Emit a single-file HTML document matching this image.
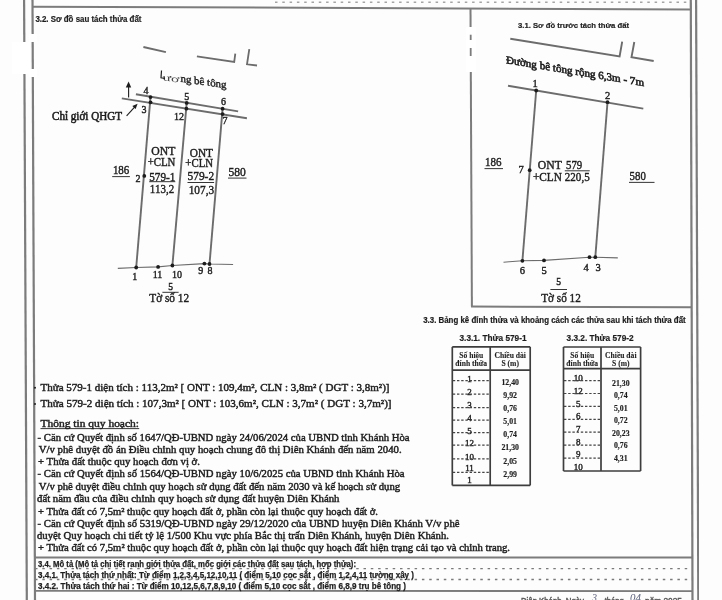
<!DOCTYPE html>
<html><head><meta charset="utf-8"><style>
html,body{margin:0;padding:0;background:#fdfdfd;}
body{width:722px;height:600px;overflow:hidden;}
svg{display:block;}
</style></head><body>
<svg width="722" height="600" viewBox="0 0 722 600">
<rect width="722" height="600" fill="#fdfdfd"/>
<g filter="url(#b)">
<line x1="24.1" y1="0" x2="26.8" y2="600" stroke="#7c7c7c" stroke-width="2.2"/>
<line x1="32.5" y1="0" x2="35.0" y2="600" stroke="#7c7c7c" stroke-width="2.2"/>
<line x1="690.8" y1="0" x2="692.5" y2="600" stroke="#7c7c7c" stroke-width="2.2"/>
<line x1="696.1" y1="0" x2="698.3" y2="600" stroke="#7c7c7c" stroke-width="2.2"/>
<circle cx="35" cy="387.7" r="1" fill="#1e1e1e"/>
<circle cx="35" cy="404.1" r="1" fill="#1e1e1e"/>
<line x1="32" y1="6.65" x2="691" y2="9.4" stroke="#7c7c7c" stroke-width="2.0"/>
<line x1="275" y1="2.3" x2="691" y2="2.3" stroke="#a5a5a5" stroke-width="1.4" stroke-dasharray="2.5 4.8"/>
<line x1="470.5" y1="8" x2="471.9" y2="306.6" stroke="#7c7c7c" stroke-width="2.0"/>
<line x1="471.0" y1="306.6" x2="691.8" y2="307.3" stroke="#7c7c7c" stroke-width="2.0"/>
<line x1="34.6" y1="557.5" x2="692" y2="557.5" stroke="#7c7c7c" stroke-width="1.8"/>
<line x1="34.9" y1="590.8" x2="692.5" y2="591.1" stroke="#7c7c7c" stroke-width="1.8"/>
<line x1="35" y1="568.7" x2="692" y2="568.7" stroke="#7a7a7a" stroke-width="1.3" stroke-dasharray="2.5 4.8"/>
<line x1="35" y1="579.5" x2="692" y2="579.5" stroke="#7a7a7a" stroke-width="1.3" stroke-dasharray="2.5 4.8"/>
<rect x="12" y="42" width="18" height="32" fill="#ffffff"/>
<rect x="29" y="34" width="8" height="8" fill="#ffffff"/>
<rect x="29" y="69" width="8" height="8" fill="#ffffff"/>
<rect x="466" y="27" width="10" height="45" fill="#ffffff"/>
<line x1="470.7" y1="34.7" x2="470.7" y2="40" stroke="#7c7c7c" stroke-width="1.8"/>
<line x1="470.7" y1="48" x2="470.7" y2="56" stroke="#7c7c7c" stroke-width="1.8"/>
<text x="35.4" y="22.3" font-family="Liberation Sans" font-size="8.6" font-weight="700" fill="#1e1e1e" stroke="#1e1e1e" stroke-width="0.2" text-anchor="start" textLength="106" lengthAdjust="spacingAndGlyphs">3.2. Sơ đồ sau tách thửa đất</text>
<text x="518" y="27.5" font-family="Liberation Sans" font-size="8.0" font-weight="700" fill="#1e1e1e" stroke="#1e1e1e" stroke-width="0.2" text-anchor="start" textLength="111" lengthAdjust="spacingAndGlyphs">3.1. Sơ đồ trước tách thửa đất</text>
<text x="423.2" y="323.4" font-family="Liberation Sans" font-size="8.3" font-weight="700" fill="#1e1e1e" stroke="#1e1e1e" stroke-width="0.2" text-anchor="start" textLength="262.5" lengthAdjust="spacingAndGlyphs">3.3. Bảng kê đỉnh thửa và khoảng cách các thửa sau khi tách thửa đất</text>
<text x="459.5" y="340.5" font-family="Liberation Sans" font-size="8.3" font-weight="700" fill="#1e1e1e" stroke="#1e1e1e" stroke-width="0.2" text-anchor="start" textLength="67" lengthAdjust="spacingAndGlyphs">3.3.1. Thửa 579-1</text>
<text x="566.6" y="340.8" font-family="Liberation Sans" font-size="8.3" font-weight="700" fill="#1e1e1e" stroke="#1e1e1e" stroke-width="0.2" text-anchor="start" textLength="67" lengthAdjust="spacingAndGlyphs">3.3.2. Thửa 579-2</text>
<line x1="143.4" y1="47" x2="165.9" y2="52.2" stroke="#6c6c6c" stroke-width="1.8"/>
<polyline points="196.9,56.3 234.2,62.0 235.3,53.6" fill="none" stroke="#6c6c6c" stroke-width="1.8"/>
<polyline points="249.3,49.2 247.0,64.3 257,65.5" fill="none" stroke="#6c6c6c" stroke-width="1.8"/>
<text x="162.5" y="80.2" font-family="Liberation Serif" font-size="9.5" font-weight="400" fill="#4a4a4a" stroke="#4a4a4a" stroke-width="0" text-anchor="start" textLength="17" lengthAdjust="spacingAndGlyphs" transform="translate(162.5 80.2) skewY(8) translate(-162.5 -80.2)">ươ</text>
<text x="180.5" y="81.8" font-family="Liberation Serif" font-size="10.5" font-weight="400" fill="#1e1e1e" stroke="#1e1e1e" stroke-width="0.4" text-anchor="start" textLength="46" lengthAdjust="spacingAndGlyphs" transform="translate(180.5 81.8) skewY(8) translate(-180.5 -81.8)">ng bê tông</text>
<polyline points="161.5,70.5 161,77.8 165,78.3" fill="none" stroke="#1e1e1e" stroke-width="1.2"/>
<line x1="135.9" y1="94.2" x2="238.1" y2="111.4" stroke="#6c6c6c" stroke-width="1.9"/>
<line x1="121.8" y1="98.4" x2="246.9" y2="118.2" stroke="#6c6c6c" stroke-width="1.9"/>
<line x1="150.5" y1="97.1" x2="136.2" y2="267.5" stroke="#6c6c6c" stroke-width="1.9"/>
<line x1="186.7" y1="102.9" x2="172.4" y2="265.5" stroke="#6c6c6c" stroke-width="1.9"/>
<line x1="222.6" y1="108.7" x2="209.5" y2="264.0" stroke="#6c6c6c" stroke-width="1.9"/>
<polyline points="117.8,268.4 136.2,267.5 158.1,266.9 172.4,265.5 204.4,263.6 209.5,264.0 233.1,264.5" fill="none" stroke="#6c6c6c" stroke-width="1.1"/>
<circle cx="150.5" cy="97.1" r="1.9" fill="#1e1e1e"/>
<circle cx="150.5" cy="102.3" r="1.9" fill="#1e1e1e"/>
<circle cx="186.7" cy="102.9" r="1.9" fill="#1e1e1e"/>
<circle cx="186.4" cy="108.7" r="1.9" fill="#1e1e1e"/>
<circle cx="222.6" cy="108.7" r="1.9" fill="#1e1e1e"/>
<circle cx="222.6" cy="114.1" r="1.9" fill="#1e1e1e"/>
<circle cx="144.3" cy="175.9" r="1.9" fill="#1e1e1e"/>
<circle cx="136.2" cy="267.5" r="1.9" fill="#1e1e1e"/>
<circle cx="158.1" cy="266.9" r="1.9" fill="#1e1e1e"/>
<circle cx="172.4" cy="265.5" r="1.9" fill="#1e1e1e"/>
<circle cx="204.4" cy="263.6" r="1.9" fill="#1e1e1e"/>
<circle cx="209.5" cy="264.0" r="1.9" fill="#1e1e1e"/>
<text x="146" y="93.5" font-family="Liberation Serif" font-size="10" font-weight="400" fill="#1e1e1e" stroke="#1e1e1e" stroke-width="0.4" text-anchor="middle">4</text>
<text x="144.1" y="112.8" font-family="Liberation Serif" font-size="10" font-weight="400" fill="#1e1e1e" stroke="#1e1e1e" stroke-width="0.4" text-anchor="middle">3</text>
<text x="186.7" y="100.3" font-family="Liberation Serif" font-size="10" font-weight="400" fill="#1e1e1e" stroke="#1e1e1e" stroke-width="0.4" text-anchor="middle">5</text>
<text x="179" y="119.7" font-family="Liberation Serif" font-size="10" font-weight="400" fill="#1e1e1e" stroke="#1e1e1e" stroke-width="0.4" text-anchor="middle">12</text>
<text x="223.6" y="105.1" font-family="Liberation Serif" font-size="10" font-weight="400" fill="#1e1e1e" stroke="#1e1e1e" stroke-width="0.4" text-anchor="middle">6</text>
<text x="225.1" y="123.6" font-family="Liberation Serif" font-size="10" font-weight="400" fill="#1e1e1e" stroke="#1e1e1e" stroke-width="0.4" text-anchor="middle">7</text>
<text x="138.1" y="182.1" font-family="Liberation Serif" font-size="10" font-weight="400" fill="#1e1e1e" stroke="#1e1e1e" stroke-width="0.4" text-anchor="middle">2</text>
<text x="134.8" y="280" font-family="Liberation Serif" font-size="10" font-weight="400" fill="#1e1e1e" stroke="#1e1e1e" stroke-width="0.4" text-anchor="middle">1</text>
<text x="157.5" y="277.5" font-family="Liberation Serif" font-size="10" font-weight="400" fill="#1e1e1e" stroke="#1e1e1e" stroke-width="0.4" text-anchor="middle">11</text>
<text x="176.9" y="277.5" font-family="Liberation Serif" font-size="10" font-weight="400" fill="#1e1e1e" stroke="#1e1e1e" stroke-width="0.4" text-anchor="middle">10</text>
<text x="200.8" y="274" font-family="Liberation Serif" font-size="10" font-weight="400" fill="#1e1e1e" stroke="#1e1e1e" stroke-width="0.4" text-anchor="middle">9</text>
<text x="209.9" y="274.3" font-family="Liberation Serif" font-size="10" font-weight="400" fill="#1e1e1e" stroke="#1e1e1e" stroke-width="0.4" text-anchor="middle">8</text>
<line x1="128.6" y1="97.5" x2="128.6" y2="84" stroke="#1e1e1e" stroke-width="1.1"/>
<path d="M125.8,87.5 L128.6,81.5 L131.2,87.5 Z" fill="#1e1e1e"/>
<line x1="126.6" y1="115.9" x2="135.5" y2="106.2" stroke="#1e1e1e" stroke-width="1.1"/>
<path d="M132.3,106.0 L137.6,103.8 L135.6,109.0 Z" fill="#1e1e1e"/>
<text x="52" y="120.3" font-family="Liberation Serif" font-size="11.5" font-weight="400" fill="#1e1e1e" stroke="#1e1e1e" stroke-width="0.55" text-anchor="start" textLength="70" lengthAdjust="spacingAndGlyphs">Chỉ giới QHGT</text>
<text x="163.3" y="155.0" font-family="Liberation Serif" font-size="11.5" font-weight="400" fill="#1e1e1e" stroke="#1e1e1e" stroke-width="0.4" text-anchor="middle" textLength="24" lengthAdjust="spacingAndGlyphs">ONT</text>
<text x="161.5" y="165.5" font-family="Liberation Serif" font-size="11.5" font-weight="400" fill="#1e1e1e" stroke="#1e1e1e" stroke-width="0.4" text-anchor="middle" textLength="27.7" lengthAdjust="spacingAndGlyphs">+CLN</text>
<text x="162.3" y="180.6" font-family="Liberation Serif" font-size="11.5" font-weight="400" fill="#1e1e1e" stroke="#1e1e1e" stroke-width="0.4" text-anchor="middle" textLength="26" lengthAdjust="spacingAndGlyphs">579-1</text>
<line x1="149.2" y1="181.7" x2="175.3" y2="181.7" stroke="#1e1e1e" stroke-width="0.9"/>
<text x="162" y="193.2" font-family="Liberation Serif" font-size="11.5" font-weight="400" fill="#1e1e1e" stroke="#1e1e1e" stroke-width="0.4" text-anchor="middle" textLength="24.3" lengthAdjust="spacingAndGlyphs">113,2</text>
<text x="201.4" y="156.6" font-family="Liberation Serif" font-size="11.5" font-weight="400" fill="#1e1e1e" stroke="#1e1e1e" stroke-width="0.4" text-anchor="middle" textLength="23.3" lengthAdjust="spacingAndGlyphs">ONT</text>
<text x="199.2" y="167" font-family="Liberation Serif" font-size="11.5" font-weight="400" fill="#1e1e1e" stroke="#1e1e1e" stroke-width="0.4" text-anchor="middle" textLength="27.7" lengthAdjust="spacingAndGlyphs">+CLN</text>
<text x="200.8" y="179.9" font-family="Liberation Serif" font-size="11.5" font-weight="400" fill="#1e1e1e" stroke="#1e1e1e" stroke-width="0.4" text-anchor="middle" textLength="26.6" lengthAdjust="spacingAndGlyphs">579-2</text>
<line x1="187.5" y1="182.5" x2="214.1" y2="182.5" stroke="#1e1e1e" stroke-width="0.9"/>
<text x="201.4" y="193.6" font-family="Liberation Serif" font-size="11.5" font-weight="400" fill="#1e1e1e" stroke="#1e1e1e" stroke-width="0.4" text-anchor="middle" textLength="25.5" lengthAdjust="spacingAndGlyphs">107,3</text>
<text x="121.1" y="174.3" font-family="Liberation Serif" font-size="11.5" font-weight="400" fill="#1e1e1e" stroke="#1e1e1e" stroke-width="0.4" text-anchor="middle" textLength="16.4" lengthAdjust="spacingAndGlyphs">186</text>
<line x1="112.2" y1="176.6" x2="129.9" y2="176.6" stroke="#1e1e1e" stroke-width="0.9"/>
<text x="237.2" y="175.5" font-family="Liberation Serif" font-size="11.5" font-weight="400" fill="#1e1e1e" stroke="#1e1e1e" stroke-width="0.4" text-anchor="middle" textLength="17.3" lengthAdjust="spacingAndGlyphs">580</text>
<line x1="228" y1="178.1" x2="246.5" y2="178.1" stroke="#1e1e1e" stroke-width="0.9"/>
<text x="170.5" y="289.6" font-family="Liberation Serif" font-size="9.5" font-weight="400" fill="#1e1e1e" stroke="#1e1e1e" stroke-width="0.4" text-anchor="middle">5</text>
<line x1="162.4" y1="292.3" x2="178.6" y2="292.3" stroke="#1e1e1e" stroke-width="0.9"/>
<text x="169.2" y="301.6" font-family="Liberation Serif" font-size="12" font-weight="400" fill="#1e1e1e" stroke="#1e1e1e" stroke-width="0.4" text-anchor="middle" textLength="39.9" lengthAdjust="spacingAndGlyphs">Tờ số 12</text>
<polyline points="510.3,38.7 619.6,56.4 622.2,41.6" fill="none" stroke="#6c6c6c" stroke-width="1.9"/>
<polyline points="634.3,42 631.5,57.2 653.7,61" fill="none" stroke="#6c6c6c" stroke-width="1.9"/>
<text x="506" y="63.3" font-family="Liberation Serif" font-size="10.8" font-weight="400" fill="#1e1e1e" stroke="#1e1e1e" stroke-width="0.6" text-anchor="start" textLength="138" lengthAdjust="spacingAndGlyphs" transform="translate(506 63.3) skewY(9.4) translate(-506 -63.3)">Đường bê tông rộng 6,3m - 7m</text>
<line x1="508" y1="85.7" x2="643.3" y2="108.6" stroke="#6c6c6c" stroke-width="1.9"/>
<line x1="536.2" y1="90.5" x2="522.4" y2="260.8" stroke="#6c6c6c" stroke-width="1.9"/>
<line x1="607.5" y1="102.2" x2="595.3" y2="257.2" stroke="#6c6c6c" stroke-width="1.9"/>
<polyline points="503.5,262.2 522.4,260.8 544,260.4 589.5,257.2 595.3,257.2 617.8,257.9" fill="none" stroke="#6c6c6c" stroke-width="1.1"/>
<circle cx="536.2" cy="90.5" r="1.9" fill="#1e1e1e"/>
<circle cx="607.5" cy="102.2" r="1.9" fill="#1e1e1e"/>
<circle cx="529.7" cy="170.2" r="1.9" fill="#1e1e1e"/>
<circle cx="522.4" cy="260.8" r="1.9" fill="#1e1e1e"/>
<circle cx="544" cy="260.4" r="1.9" fill="#1e1e1e"/>
<circle cx="589.5" cy="257.2" r="1.9" fill="#1e1e1e"/>
<circle cx="595.3" cy="257.2" r="1.9" fill="#1e1e1e"/>
<text x="535" y="86.5" font-family="Liberation Serif" font-size="10.5" font-weight="400" fill="#1e1e1e" stroke="#1e1e1e" stroke-width="0.4" text-anchor="middle">1</text>
<text x="607.5" y="98.8" font-family="Liberation Serif" font-size="10.5" font-weight="400" fill="#1e1e1e" stroke="#1e1e1e" stroke-width="0.4" text-anchor="middle">2</text>
<text x="521.1" y="172.8" font-family="Liberation Serif" font-size="10.5" font-weight="400" fill="#1e1e1e" stroke="#1e1e1e" stroke-width="0.4" text-anchor="middle">7</text>
<text x="522.4" y="273.5" font-family="Liberation Serif" font-size="10.5" font-weight="400" fill="#1e1e1e" stroke="#1e1e1e" stroke-width="0.4" text-anchor="middle">6</text>
<text x="544" y="273.5" font-family="Liberation Serif" font-size="10.5" font-weight="400" fill="#1e1e1e" stroke="#1e1e1e" stroke-width="0.4" text-anchor="middle">5</text>
<text x="586" y="271" font-family="Liberation Serif" font-size="10.5" font-weight="400" fill="#1e1e1e" stroke="#1e1e1e" stroke-width="0.4" text-anchor="middle">4</text>
<text x="598" y="271" font-family="Liberation Serif" font-size="10.5" font-weight="400" fill="#1e1e1e" stroke="#1e1e1e" stroke-width="0.4" text-anchor="middle">3</text>
<text x="493.3" y="166.4" font-family="Liberation Serif" font-size="11.5" font-weight="400" fill="#1e1e1e" stroke="#1e1e1e" stroke-width="0.4" text-anchor="middle" textLength="16.5" lengthAdjust="spacingAndGlyphs">186</text>
<line x1="484.5" y1="168.6" x2="503" y2="168.6" stroke="#1e1e1e" stroke-width="0.9"/>
<text x="637.7" y="179.5" font-family="Liberation Serif" font-size="11.5" font-weight="400" fill="#1e1e1e" stroke="#1e1e1e" stroke-width="0.4" text-anchor="middle" textLength="16.2" lengthAdjust="spacingAndGlyphs">580</text>
<line x1="629" y1="182.4" x2="654.5" y2="182.4" stroke="#1e1e1e" stroke-width="0.9"/>
<text x="537.8" y="168.7" font-family="Liberation Serif" font-size="11.5" font-weight="400" fill="#1e1e1e" stroke="#1e1e1e" stroke-width="0.4" text-anchor="start" textLength="24" lengthAdjust="spacingAndGlyphs">ONT</text>
<text x="566" y="168.7" font-family="Liberation Serif" font-size="11.5" font-weight="400" fill="#1e1e1e" stroke="#1e1e1e" stroke-width="0.4" text-anchor="start" textLength="16.2" lengthAdjust="spacingAndGlyphs">579</text>
<line x1="564.8" y1="170.8" x2="589.7" y2="170.8" stroke="#1e1e1e" stroke-width="0.9"/>
<text x="532.9" y="180.9" font-family="Liberation Serif" font-size="11.5" font-weight="400" fill="#1e1e1e" stroke="#1e1e1e" stroke-width="0.4" text-anchor="start" textLength="28.9" lengthAdjust="spacingAndGlyphs">+CLN</text>
<text x="564.8" y="181.3" font-family="Liberation Serif" font-size="11.5" font-weight="400" fill="#1e1e1e" stroke="#1e1e1e" stroke-width="0.4" text-anchor="start" textLength="24.9" lengthAdjust="spacingAndGlyphs">220,5</text>
<text x="558.5" y="285.3" font-family="Liberation Serif" font-size="9.5" font-weight="400" fill="#1e1e1e" stroke="#1e1e1e" stroke-width="0.4" text-anchor="middle">5</text>
<line x1="550.4" y1="289.5" x2="567" y2="289.5" stroke="#1e1e1e" stroke-width="0.9"/>
<text x="561" y="301.8" font-family="Liberation Serif" font-size="12" font-weight="400" fill="#1e1e1e" stroke="#1e1e1e" stroke-width="0.4" text-anchor="middle" textLength="39.5" lengthAdjust="spacingAndGlyphs">Tờ số 12</text>
<line x1="452.3" y1="346.9" x2="530.2" y2="346.9" stroke="#3e3e3e" stroke-width="1.7"/>
<line x1="452.3" y1="485.4" x2="530.2" y2="485.4" stroke="#3e3e3e" stroke-width="1.7"/>
<line x1="452.3" y1="346.9" x2="452.3" y2="485.4" stroke="#3e3e3e" stroke-width="1.7"/>
<line x1="530.2" y1="346.9" x2="530.2" y2="485.4" stroke="#3e3e3e" stroke-width="1.7"/>
<line x1="490.2" y1="346.9" x2="490.2" y2="485.4" stroke="#3e3e3e" stroke-width="1.7"/>
<line x1="452.3" y1="370.1" x2="530.2" y2="370.1" stroke="#3e3e3e" stroke-width="1.7"/>
<text x="471.25" y="358.2" font-family="Liberation Serif" font-size="7.6" font-weight="700" fill="#1e1e1e" stroke="#1e1e1e" stroke-width="0.1" text-anchor="middle">Số hiệu</text>
<text x="471.25" y="365.9" font-family="Liberation Serif" font-size="7.6" font-weight="700" fill="#1e1e1e" stroke="#1e1e1e" stroke-width="0.1" text-anchor="middle">đỉnh thửa</text>
<text x="510.20000000000005" y="358.2" font-family="Liberation Serif" font-size="7.6" font-weight="700" fill="#1e1e1e" stroke="#1e1e1e" stroke-width="0.1" text-anchor="middle">Chiều dài</text>
<text x="510.20000000000005" y="365.9" font-family="Liberation Serif" font-size="7.6" font-weight="700" fill="#1e1e1e" stroke="#1e1e1e" stroke-width="0.1" text-anchor="middle">S (m)</text>
<text x="469.55" y="381.7" font-family="Liberation Serif" font-size="9" font-weight="400" fill="#1e1e1e" stroke="#1e1e1e" stroke-width="0.4" text-anchor="middle">1</text>
<text x="469.55" y="394.9" font-family="Liberation Serif" font-size="9" font-weight="400" fill="#1e1e1e" stroke="#1e1e1e" stroke-width="0.4" text-anchor="middle">2</text>
<text x="469.55" y="407.8" font-family="Liberation Serif" font-size="9" font-weight="400" fill="#1e1e1e" stroke="#1e1e1e" stroke-width="0.4" text-anchor="middle">3</text>
<text x="469.55" y="421.3" font-family="Liberation Serif" font-size="9" font-weight="400" fill="#1e1e1e" stroke="#1e1e1e" stroke-width="0.4" text-anchor="middle">4</text>
<text x="469.55" y="433.8" font-family="Liberation Serif" font-size="9" font-weight="400" fill="#1e1e1e" stroke="#1e1e1e" stroke-width="0.4" text-anchor="middle">5</text>
<text x="469.55" y="446.3" font-family="Liberation Serif" font-size="9" font-weight="400" fill="#1e1e1e" stroke="#1e1e1e" stroke-width="0.4" text-anchor="middle">12</text>
<text x="469.55" y="459.5" font-family="Liberation Serif" font-size="9" font-weight="400" fill="#1e1e1e" stroke="#1e1e1e" stroke-width="0.4" text-anchor="middle">10</text>
<text x="469.55" y="471.3" font-family="Liberation Serif" font-size="9" font-weight="400" fill="#1e1e1e" stroke="#1e1e1e" stroke-width="0.4" text-anchor="middle">11</text>
<text x="469.55" y="482.8" font-family="Liberation Serif" font-size="9" font-weight="400" fill="#1e1e1e" stroke="#1e1e1e" stroke-width="0.4" text-anchor="middle">1</text>
<text x="510.20000000000005" y="385.3" font-family="Liberation Serif" font-size="7.8" font-weight="700" fill="#1e1e1e" stroke="#1e1e1e" stroke-width="0.15" text-anchor="middle">12,40</text>
<text x="510.20000000000005" y="398.40000000000003" font-family="Liberation Serif" font-size="7.8" font-weight="700" fill="#1e1e1e" stroke="#1e1e1e" stroke-width="0.15" text-anchor="middle">9,92</text>
<text x="510.20000000000005" y="411.40000000000003" font-family="Liberation Serif" font-size="7.8" font-weight="700" fill="#1e1e1e" stroke="#1e1e1e" stroke-width="0.15" text-anchor="middle">0,76</text>
<text x="510.20000000000005" y="424.3" font-family="Liberation Serif" font-size="7.8" font-weight="700" fill="#1e1e1e" stroke="#1e1e1e" stroke-width="0.15" text-anchor="middle">5,01</text>
<text x="510.20000000000005" y="437.40000000000003" font-family="Liberation Serif" font-size="7.8" font-weight="700" fill="#1e1e1e" stroke="#1e1e1e" stroke-width="0.15" text-anchor="middle">0,74</text>
<text x="510.20000000000005" y="449.90000000000003" font-family="Liberation Serif" font-size="7.8" font-weight="700" fill="#1e1e1e" stroke="#1e1e1e" stroke-width="0.15" text-anchor="middle">21,30</text>
<text x="510.20000000000005" y="463.90000000000003" font-family="Liberation Serif" font-size="7.8" font-weight="700" fill="#1e1e1e" stroke="#1e1e1e" stroke-width="0.15" text-anchor="middle">2,05</text>
<text x="510.20000000000005" y="477.0" font-family="Liberation Serif" font-size="7.8" font-weight="700" fill="#1e1e1e" stroke="#1e1e1e" stroke-width="0.15" text-anchor="middle">2,99</text>
<line x1="452.8" y1="380.6" x2="489.7" y2="380.6" stroke="#444" stroke-width="1.2" stroke-dasharray="2.4 1.8"/>
<line x1="452.8" y1="394.2" x2="489.7" y2="394.2" stroke="#444" stroke-width="1.2" stroke-dasharray="2.4 1.8"/>
<line x1="452.8" y1="407.7" x2="489.7" y2="407.7" stroke="#444" stroke-width="1.2" stroke-dasharray="2.4 1.8"/>
<line x1="452.8" y1="420.2" x2="489.7" y2="420.2" stroke="#444" stroke-width="1.2" stroke-dasharray="2.4 1.8"/>
<line x1="452.8" y1="432.7" x2="489.7" y2="432.7" stroke="#444" stroke-width="1.2" stroke-dasharray="2.4 1.8"/>
<line x1="452.8" y1="445.2" x2="489.7" y2="445.2" stroke="#444" stroke-width="1.2" stroke-dasharray="2.4 1.8"/>
<line x1="452.8" y1="458.8" x2="489.7" y2="458.8" stroke="#444" stroke-width="1.2" stroke-dasharray="2.4 1.8"/>
<line x1="452.8" y1="472.3" x2="489.7" y2="472.3" stroke="#444" stroke-width="1.2" stroke-dasharray="2.4 1.8"/>
<line x1="563.5" y1="347" x2="640.6" y2="347" stroke="#3e3e3e" stroke-width="1.7"/>
<line x1="563.5" y1="471" x2="640.6" y2="471" stroke="#3e3e3e" stroke-width="1.7"/>
<line x1="563.5" y1="347" x2="563.5" y2="471" stroke="#3e3e3e" stroke-width="1.7"/>
<line x1="640.6" y1="347" x2="640.6" y2="471" stroke="#3e3e3e" stroke-width="1.7"/>
<line x1="601" y1="347" x2="601" y2="471" stroke="#3e3e3e" stroke-width="1.7"/>
<line x1="563.5" y1="368.6" x2="640.6" y2="368.6" stroke="#3e3e3e" stroke-width="1.7"/>
<text x="582.25" y="358.2" font-family="Liberation Serif" font-size="7.6" font-weight="700" fill="#1e1e1e" stroke="#1e1e1e" stroke-width="0.1" text-anchor="middle">Số hiệu</text>
<text x="582.25" y="365.9" font-family="Liberation Serif" font-size="7.6" font-weight="700" fill="#1e1e1e" stroke="#1e1e1e" stroke-width="0.1" text-anchor="middle">đỉnh thửa</text>
<text x="620.8" y="358.2" font-family="Liberation Serif" font-size="7.6" font-weight="700" fill="#1e1e1e" stroke="#1e1e1e" stroke-width="0.1" text-anchor="middle">Chiều dài</text>
<text x="620.8" y="365.9" font-family="Liberation Serif" font-size="7.6" font-weight="700" fill="#1e1e1e" stroke="#1e1e1e" stroke-width="0.1" text-anchor="middle">S (m)</text>
<text x="578.25" y="381.2" font-family="Liberation Serif" font-size="9" font-weight="400" fill="#1e1e1e" stroke="#1e1e1e" stroke-width="0.4" text-anchor="middle">10</text>
<text x="578.25" y="394.09999999999997" font-family="Liberation Serif" font-size="9" font-weight="400" fill="#1e1e1e" stroke="#1e1e1e" stroke-width="0.4" text-anchor="middle">12</text>
<text x="578.25" y="407.0" font-family="Liberation Serif" font-size="9" font-weight="400" fill="#1e1e1e" stroke="#1e1e1e" stroke-width="0.4" text-anchor="middle">5</text>
<text x="578.25" y="419.2" font-family="Liberation Serif" font-size="9" font-weight="400" fill="#1e1e1e" stroke="#1e1e1e" stroke-width="0.4" text-anchor="middle">6</text>
<text x="578.25" y="431.59999999999997" font-family="Liberation Serif" font-size="9" font-weight="400" fill="#1e1e1e" stroke="#1e1e1e" stroke-width="0.4" text-anchor="middle">7</text>
<text x="578.25" y="445.0" font-family="Liberation Serif" font-size="9" font-weight="400" fill="#1e1e1e" stroke="#1e1e1e" stroke-width="0.4" text-anchor="middle">8</text>
<text x="578.25" y="457.4" font-family="Liberation Serif" font-size="9" font-weight="400" fill="#1e1e1e" stroke="#1e1e1e" stroke-width="0.4" text-anchor="middle">9</text>
<text x="578.25" y="469.8" font-family="Liberation Serif" font-size="9" font-weight="400" fill="#1e1e1e" stroke="#1e1e1e" stroke-width="0.4" text-anchor="middle">10</text>
<text x="620.8" y="385.70000000000005" font-family="Liberation Serif" font-size="7.8" font-weight="700" fill="#1e1e1e" stroke="#1e1e1e" stroke-width="0.15" text-anchor="middle">21,30</text>
<text x="620.8" y="397.90000000000003" font-family="Liberation Serif" font-size="7.8" font-weight="700" fill="#1e1e1e" stroke="#1e1e1e" stroke-width="0.15" text-anchor="middle">0,74</text>
<text x="620.8" y="410.8" font-family="Liberation Serif" font-size="7.8" font-weight="700" fill="#1e1e1e" stroke="#1e1e1e" stroke-width="0.15" text-anchor="middle">5,01</text>
<text x="620.8" y="423.20000000000005" font-family="Liberation Serif" font-size="7.8" font-weight="700" fill="#1e1e1e" stroke="#1e1e1e" stroke-width="0.15" text-anchor="middle">0,72</text>
<text x="620.8" y="436.1" font-family="Liberation Serif" font-size="7.8" font-weight="700" fill="#1e1e1e" stroke="#1e1e1e" stroke-width="0.15" text-anchor="middle">20,23</text>
<text x="620.8" y="447.8" font-family="Liberation Serif" font-size="7.8" font-weight="700" fill="#1e1e1e" stroke="#1e1e1e" stroke-width="0.15" text-anchor="middle">0,76</text>
<text x="620.8" y="460.70000000000005" font-family="Liberation Serif" font-size="7.8" font-weight="700" fill="#1e1e1e" stroke="#1e1e1e" stroke-width="0.15" text-anchor="middle">4,31</text>
<line x1="564.0" y1="380.6" x2="600.5" y2="380.6" stroke="#444" stroke-width="1.2" stroke-dasharray="2.4 1.8"/>
<line x1="564.0" y1="393.5" x2="600.5" y2="393.5" stroke="#444" stroke-width="1.2" stroke-dasharray="2.4 1.8"/>
<line x1="564.0" y1="406.4" x2="600.5" y2="406.4" stroke="#444" stroke-width="1.2" stroke-dasharray="2.4 1.8"/>
<line x1="564.0" y1="419.3" x2="600.5" y2="419.3" stroke="#444" stroke-width="1.2" stroke-dasharray="2.4 1.8"/>
<line x1="564.0" y1="432.2" x2="600.5" y2="432.2" stroke="#444" stroke-width="1.2" stroke-dasharray="2.4 1.8"/>
<line x1="564.0" y1="445.2" x2="600.5" y2="445.2" stroke="#444" stroke-width="1.2" stroke-dasharray="2.4 1.8"/>
<line x1="564.0" y1="458.1" x2="600.5" y2="458.1" stroke="#444" stroke-width="1.2" stroke-dasharray="2.4 1.8"/>
<text x="40.5" y="390.5" font-family="Liberation Serif" font-size="10.8" font-weight="400" fill="#1e1e1e" stroke="#1e1e1e" stroke-width="0.45" text-anchor="start" textLength="349" lengthAdjust="spacingAndGlyphs">Thửa 579-1 diện tích : 113,2m² [ ONT : 109,4m², CLN : 3,8m² ( DGT : 3,8m²)]</text>
<text x="40.5" y="406.6" font-family="Liberation Serif" font-size="10.8" font-weight="400" fill="#1e1e1e" stroke="#1e1e1e" stroke-width="0.45" text-anchor="start" textLength="351" lengthAdjust="spacingAndGlyphs">Thửa 579-2 diện tích : 107,3m² [ ONT : 103,6m², CLN : 3,7m² ( DGT : 3,7m²)]</text>
<text x="40.5" y="426.5" font-family="Liberation Serif" font-size="10.8" font-weight="400" fill="#1e1e1e" stroke="#1e1e1e" stroke-width="0.45" text-anchor="start" textLength="98.5" lengthAdjust="spacingAndGlyphs">Thông tin quy hoạch:</text>
<text x="37.6" y="440.9" font-family="Liberation Serif" font-size="10.8" font-weight="400" fill="#1e1e1e" stroke="#1e1e1e" stroke-width="0.45" text-anchor="start" textLength="372" lengthAdjust="spacingAndGlyphs">- Căn cứ Quyết định số 1647/QĐ-UBND ngày 24/06/2024 của UBND tỉnh Khánh Hòa</text>
<text x="38.7" y="453.1" font-family="Liberation Serif" font-size="10.8" font-weight="400" fill="#1e1e1e" stroke="#1e1e1e" stroke-width="0.45" text-anchor="start" textLength="363" lengthAdjust="spacingAndGlyphs">V/v phê duyệt đồ án Điều chỉnh quy hoạch chung đô thị Diên Khánh đến năm 2040.</text>
<text x="38" y="464.9" font-family="Liberation Serif" font-size="10.8" font-weight="400" fill="#1e1e1e" stroke="#1e1e1e" stroke-width="0.45" text-anchor="start" textLength="162" lengthAdjust="spacingAndGlyphs">+ Thửa đất thuộc quy hoạch đơn vị ở.</text>
<text x="37.6" y="476.7" font-family="Liberation Serif" font-size="10.8" font-weight="400" fill="#1e1e1e" stroke="#1e1e1e" stroke-width="0.45" text-anchor="start" textLength="367" lengthAdjust="spacingAndGlyphs">- Căn cứ Quyết định số 1564/QĐ-UBND ngày 10/6/2025 của UBND tỉnh Khánh Hòa</text>
<text x="38.7" y="489.9" font-family="Liberation Serif" font-size="10.8" font-weight="400" fill="#1e1e1e" stroke="#1e1e1e" stroke-width="0.45" text-anchor="start" textLength="361.5" lengthAdjust="spacingAndGlyphs">V/v phê duyệt điều chỉnh quy hoạch sử dụng đất đến năm 2030 và kế hoạch sử dụng</text>
<text x="37.0" y="501.7" font-family="Liberation Serif" font-size="10.8" font-weight="400" fill="#1e1e1e" stroke="#1e1e1e" stroke-width="0.45" text-anchor="start" textLength="302.5" lengthAdjust="spacingAndGlyphs">đất năm đầu của điều chỉnh quy hoạch sử dụng đất huyện Diên Khánh</text>
<text x="38" y="514.5" font-family="Liberation Serif" font-size="10.8" font-weight="400" fill="#1e1e1e" stroke="#1e1e1e" stroke-width="0.45" text-anchor="start" textLength="340" lengthAdjust="spacingAndGlyphs">+ Thửa đất có 7,5m² thuộc quy hoạch đất ở, phần còn lại thuộc quy hoạch đất ở.</text>
<text x="37.6" y="527.1" font-family="Liberation Serif" font-size="10.8" font-weight="400" fill="#1e1e1e" stroke="#1e1e1e" stroke-width="0.45" text-anchor="start" textLength="422" lengthAdjust="spacingAndGlyphs">- Căn cứ Quyết định số 5319/QĐ-UBND ngày 29/12/2020 của UBND huyện Diên Khánh V/v phê</text>
<text x="37.0" y="538.6" font-family="Liberation Serif" font-size="10.8" font-weight="400" fill="#1e1e1e" stroke="#1e1e1e" stroke-width="0.45" text-anchor="start" textLength="412" lengthAdjust="spacingAndGlyphs">duyệt Quy hoạch chi tiết tỷ lệ 1/500 Khu vực phía Bắc thị trấn Diên Khánh, huyện Diên Khánh.</text>
<text x="38" y="551.4" font-family="Liberation Serif" font-size="10.8" font-weight="400" fill="#1e1e1e" stroke="#1e1e1e" stroke-width="0.45" text-anchor="start" textLength="472" lengthAdjust="spacingAndGlyphs">+ Thửa đất có 7,5m² thuộc quy hoạch đất ở, phần còn lại thuộc quy hoạch đất hiện trạng cải tạo và chỉnh trang.</text>
<line x1="40.5" y1="428.6" x2="139.2" y2="428.6" stroke="#1e1e1e" stroke-width="0.9"/>
<text x="38" y="566.8" font-family="Liberation Sans" font-size="8.5" font-weight="700" fill="#1e1e1e" stroke="#1e1e1e" stroke-width="0.25" text-anchor="start" textLength="318" lengthAdjust="spacingAndGlyphs">3.4. Mô tả (Mô tả chi tiết ranh giới thửa đất, mốc giới các thửa đất sau tách, hợp thửa):</text>
<text x="38" y="578.2" font-family="Liberation Sans" font-size="8.5" font-weight="700" fill="#1e1e1e" stroke="#1e1e1e" stroke-width="0.25" text-anchor="start" textLength="376" lengthAdjust="spacingAndGlyphs">3.4.1. Thửa tách thứ nhất: Từ điểm 1,2,3,4,5,12,10,11 ( điểm 5,10 cọc sắt , điểm 1,2,4,11 tường xây )</text>
<text x="38" y="589.4" font-family="Liberation Sans" font-size="8.5" font-weight="700" fill="#1e1e1e" stroke="#1e1e1e" stroke-width="0.25" text-anchor="start" textLength="368" lengthAdjust="spacingAndGlyphs">3.4.2. Thửa tách thứ hai : Từ điểm 10,12,5,6,7,8,9,10 ( điểm 5,10 cọc sắt , điểm 6,8,9 trụ bê tông )</text>
<text x="521" y="603.5" font-family="Liberation Sans" font-size="8.5" font-weight="400" fill="#555" stroke="#555" stroke-width="0.4" text-anchor="start" textLength="63" lengthAdjust="spacingAndGlyphs">Diên Khánh, Ngày</text>
<text x="604.7" y="603.5" font-family="Liberation Sans" font-size="8.5" font-weight="400" fill="#555" stroke="#555" stroke-width="0.4" text-anchor="start" textLength="19" lengthAdjust="spacingAndGlyphs">tháng</text>
<text x="645" y="603.5" font-family="Liberation Sans" font-size="8.5" font-weight="400" fill="#555" stroke="#555" stroke-width="0.4" text-anchor="start" textLength="37" lengthAdjust="spacingAndGlyphs">năm 2025</text>
<text x="592" y="601" font-family="Liberation Serif" font-size="10" font-weight="400" fill="#5a5f7a" stroke="#5a5f7a" stroke-width="0" text-anchor="start" font-style="italic">3</text>
<text x="630" y="601" font-family="Liberation Serif" font-size="11" font-weight="400" fill="#5a5f7a" stroke="#5a5f7a" stroke-width="0" text-anchor="start" font-style="italic">04</text>
</g>
<defs><filter id="b" x="0" y="0" width="100%" height="100%"><feGaussianBlur stdDeviation="0.35"/></filter></defs>
</svg>
</body></html>
